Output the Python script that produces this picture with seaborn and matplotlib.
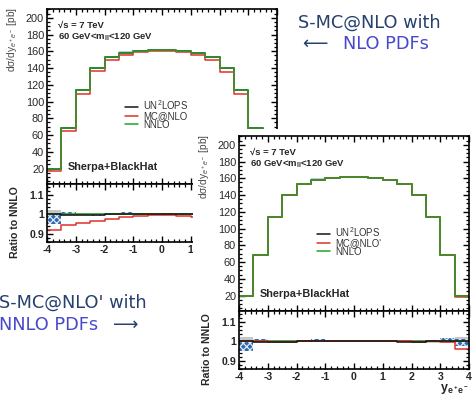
import numpy as np
import matplotlib
matplotlib.use("Agg")
import matplotlib.pyplot as plt
from matplotlib.patches import Rectangle
from matplotlib.ticker import MultipleLocator, FixedLocator, FuncFormatter
import seaborn as sns

# ---- data: Drell-Yan e+e- rapidity, 7 TeV, 60 GeV < m_ll < 120 GeV ----
bin_edges = [-4.0, -3.5, -3.0, -2.5, -2.0, -1.5, -1.0, -0.5, 0.0,
             0.5, 1.0, 1.5, 2.0, 2.5, 3.0, 3.5, 4.0]
nnlo = [19.0, 68.5, 114.0, 140.5, 153.0, 158.0, 160.5, 161.0,
        161.0, 160.5, 158.0, 153.0, 140.5, 114.0, 68.5, 19.0]
un2lops = [19.0, 68.4, 113.8, 140.0, 153.0, 158.5, 160.8, 161.0,
           161.2, 160.5, 158.0, 152.9, 140.2, 114.0, 68.6, 19.0]
mcnlo_nlo_pdf = [17.5, 64.9, 109.0, 136.0, 149.6, 155.9, 159.2, 160.2,
                 160.2, 159.2, 155.6, 149.2, 135.2, 108.5, 64.7, 17.5]
mcnlo_nnlo_pdf = [19.0, 68.5, 113.7, 139.9, 153.0, 158.5, 160.8, 161.0,
                  161.3, 160.5, 158.0, 153.0, 140.1, 114.0, 68.2, 18.3]
# UN2LOPS scale-variation band, relative to NNLO
un2lops_band_lo = [0.952, 0.995, 0.997, 0.990, 0.998, 1.002, 0.998, 0.997,
                   1.000, 0.998, 0.996, 0.996, 0.991, 0.998, 0.995, 0.975]
un2lops_band_hi = [0.998, 1.013, 1.003, 0.999, 1.004, 1.012, 1.004, 1.003,
                   1.006, 1.003, 1.003, 1.002, 1.000, 1.003, 1.018, 1.012]
# NNLO uncertainty band, relative to NNLO
nnlo_band_lo = [0.988, 0.992, 0.994, 0.995, 0.995, 0.995, 0.995, 0.995,
                0.995, 0.995, 0.995, 0.995, 0.995, 0.994, 0.992, 0.988]
nnlo_band_hi = [1.025, 1.015, 1.008, 1.007, 1.006, 1.006, 1.006, 1.006,
                1.006, 1.006, 1.006, 1.006, 1.007, 1.008, 1.015, 1.025]

xticks = [-4, -3, -2, -1, 0, 1, 2, 3, 4]
main_yticks = [20, 40, 60, 80, 100, 120, 140, 160, 180, 200]
ratio_yticks = [0.9, 1.0, 1.1]

sns.set_theme(style="ticks")
plt.rcParams.update({
    "font.family": ["Liberation Sans", "DejaVu Sans"],
    "mathtext.fontset": "custom",
    "mathtext.rm": "Liberation Sans",
    "mathtext.it": "Liberation Sans:italic",
    "mathtext.bf": "Liberation Sans:bold",
    "axes.unicode_minus": False,
    "axes.linewidth": 1.1,
    "axes.edgecolor": "black",
    "hatch.linewidth": 0.9,
})

W, H = 472, 396
fig = plt.figure(figsize=(W / 100, H / 100), dpi=100)

edges = np.asarray(bin_edges)
centers = 0.5 * (edges[:-1] + edges[1:])
ref = np.asarray(nnlo)

C_BLACK = "#151515"
C_RED = "#e0302a"
C_GREEN = "#2aa02a"
C_BAND_BLUE = "#2f68ad"
C_BAND_GRAY = "#c6c6c6"
NAVY = "#27406e"
VIOLET = "#4848cc"


def px_axes(x0, top, w, h):
    return fig.add_axes([x0 / W, 1 - (top + h) / H, w / W, h / H])


def style_ticks(ax):
    ax.tick_params(which="both", direction="in", top=True, right=True,
                   bottom=True, left=True, color="black")
    ax.tick_params(which="major", length=4.2, width=1.0)
    ax.tick_params(which="minor", length=2.2, width=0.9)
    for sp in ax.spines.values():
        sp.set_linewidth(1.2)
        sp.set_color("black")


def step(ax, values, color, label=None, lw=1.1):
    sns.histplot(x=centers, weights=values, bins=bin_edges, element="step",
                 fill=False, color=color, linewidth=lw, ax=ax, label=label)


def draw_panel(x0, top, mc_values, mc_label, zorder):
    w, hm, hr = 230, 175, 58
    ax = px_axes(x0, top, w, hm)
    rx = px_axes(x0, top + hm, w, hr)
    ax.set_zorder(zorder)
    rx.set_zorder(zorder)

    # main distribution
    ax.stairs(ref * np.asarray(nnlo_band_hi), edges,
              baseline=ref * np.asarray(nnlo_band_lo), fill=True,
              color=C_BAND_GRAY, alpha=0.8, lw=0)
    ax.stairs(ref * np.asarray(un2lops_band_hi), edges,
              baseline=ref * np.asarray(un2lops_band_lo), fill=True,
              color="#9dc0e2", alpha=0.8, lw=0)
    step(ax, un2lops, C_BLACK, "UN$^{\\mathregular{2}}$LOPS")
    step(ax, mc_values, C_RED, mc_label)
    step(ax, nnlo, C_GREEN, "NNLO")
    ax.set_xlim(-4, 4)
    ax.set_ylim(1.5, 210.5)
    ax.xaxis.set_major_locator(FixedLocator(xticks))
    ax.xaxis.set_minor_locator(MultipleLocator(0.2))
    ax.yaxis.set_major_locator(FixedLocator(main_yticks))
    ax.yaxis.set_minor_locator(MultipleLocator(5))
    ax.tick_params(labelbottom=False)
    ax.tick_params(axis="y", labelsize=7.9, labelcolor="#2a2a2a", pad=2)
    ax.set_xlabel("")
    ax.set_ylabel("")
    style_ticks(ax)
    ax.text(-0.152, 1.012, "dσ/dy$_{e^+e^-}$ [pb]", transform=ax.transAxes,
            rotation=90, ha="center", va="top", fontsize=7.3, color="#4a4a4a")
    ax.text(0.05, 0.905, "√s = 7 TeV", transform=ax.transAxes,
            fontsize=6.8, fontweight="bold", va="center", ha="left")
    ax.text(0.05, 0.838, "60 GeV<m$_{\\mathbf{ll}}$<120 GeV",
            transform=ax.transAxes, fontsize=6.8, fontweight="bold",
            va="center", ha="left")
    ax.text(0.092, 0.095, "Sherpa+BlackHat", transform=ax.transAxes,
            fontsize=7.8, fontweight="bold", va="center", ha="left")
    leg = ax.legend(loc="center left", bbox_to_anchor=(0.34, 0.40),
                    frameon=False, fontsize=6.9, handlelength=1.3,
                    handletextpad=0.6, labelspacing=-0.12, borderpad=0,
                    borderaxespad=0)
    for t in leg.get_texts():
        t.set_color("#333333")

    # ratio to NNLO
    rx.stairs(nnlo_band_hi, edges, baseline=nnlo_band_lo, fill=True,
              color=C_BAND_GRAY, lw=0)
    rx.stairs(un2lops_band_hi, edges, baseline=un2lops_band_lo, fill=True,
              color=C_BAND_BLUE, lw=0)
    rx.stairs(un2lops_band_hi, edges, baseline=un2lops_band_lo, fill=True,
              facecolor="none", edgecolor="#dfe9f5", hatch="xxxxx", lw=0)
    step(rx, ref / ref, C_GREEN)
    step(rx, np.asarray(mc_values) / ref, C_RED)
    step(rx, np.asarray(un2lops) / ref, C_BLACK)
    rx.set_xlim(-4, 4)
    rx.set_ylim(0.86, 1.155)
    rx.xaxis.set_major_locator(FixedLocator(xticks))
    rx.xaxis.set_minor_locator(MultipleLocator(0.2))
    rx.yaxis.set_major_locator(FixedLocator(ratio_yticks))
    rx.yaxis.set_minor_locator(MultipleLocator(0.02))
    rx.yaxis.set_major_formatter(FuncFormatter(lambda v, p: f"{v:g}"))
    rx.xaxis.set_major_formatter(FuncFormatter(lambda v, p: f"{v:g}"))
    rx.tick_params(labelsize=7.6, pad=2)
    for lab in rx.get_xticklabels() + rx.get_yticklabels():
        lab.set_fontweight("bold")
    rx.set_ylabel("")
    style_ticks(rx)
    rx.text(-0.139, 0.97, "Ratio to NNLO", transform=rx.transAxes,
            rotation=90, ha="center", va="top", fontsize=7.6,
            fontweight="bold")
    rx.set_xlabel("y$_{\\mathbf{e^+e^-}}$", loc="right", fontsize=9,
                  fontweight="bold", labelpad=0)
    return ax, rx


draw_panel(47, 9, mcnlo_nlo_pdf, "MC@NLO", zorder=0)

# right panel sits on top of the left one
cover = Rectangle((193 / W, 0), 1 - 193 / W, (H - 129) / H,
                  transform=fig.transFigure, facecolor="white",
                  edgecolor="none", zorder=1)
fig.add_artist(cover)
draw_panel(239, 136, mcnlo_nnlo_pdf, "MC@NLO'", zorder=2)

# annotations
fs = 12.8
fig.text(298 / W, 1 - 23 / H, "S-MC@NLO with", color=NAVY, fontsize=fs,
         family="DejaVu Sans", ha="left", va="center", zorder=5)
fig.text(302 / W, 1 - 44 / H, "⟵", color=NAVY, fontsize=fs,
         family="DejaVu Sans", ha="left", va="center", zorder=5)
fig.text(343 / W, 1 - 44 / H, "NLO PDFs", color=VIOLET, fontsize=fs,
         family="DejaVu Sans", ha="left", va="center", zorder=5)
fig.text(-1 / W, 1 - 303 / H, "S-MC@NLO' with", color=NAVY, fontsize=fs,
         family="DejaVu Sans", ha="left", va="center", zorder=5)
fig.text(-1 / W, 1 - 325 / H, "NNLO PDFs", color=VIOLET, fontsize=fs,
         family="DejaVu Sans", ha="left", va="center", zorder=5)
fig.text(113 / W, 1 - 325 / H, "⟶", color=NAVY, fontsize=fs,
         family="DejaVu Sans", ha="left", va="center", zorder=5)

fig.savefig("out.png", dpi=100)
